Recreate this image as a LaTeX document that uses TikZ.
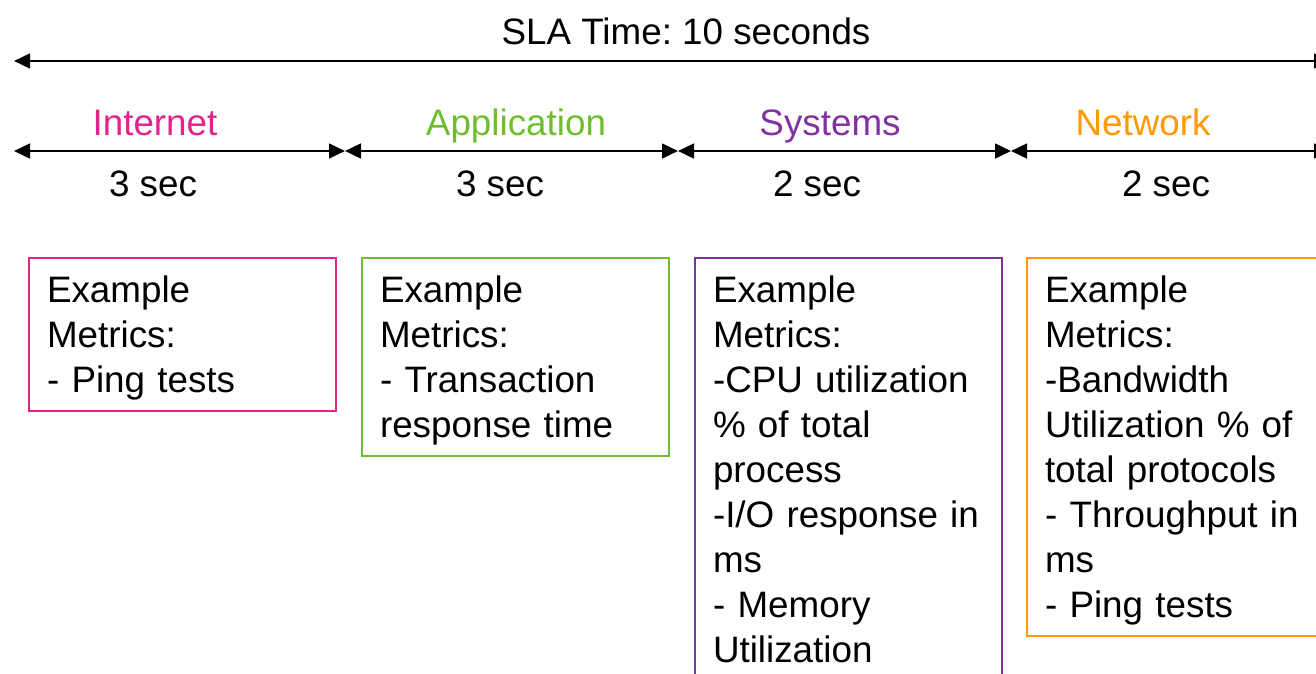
\documentclass[tikz,border=0pt]{standalone}
\usepackage{fontspec}
\setmainfont{Liberation Sans}
\usetikzlibrary{arrows.meta,positioning}
\definecolor{inetpink}{RGB}{224,36,138}
\definecolor{appgreen}{RGB}{112,190,48}
\definecolor{syspurple}{RGB}{128,50,162}
\definecolor{netorange}{RGB}{255,153,0}
\frenchspacing
\begin{document}
\begin{tikzpicture}[x=0.75pt,y=-0.75pt,
  font=\fontsize{27.6}{33.75}\selectfont,
  span/.style={line width=2pt,{Triangle[length=12pt,width=11pt]}-{Triangle[length=12pt,width=11pt]}},
  metricbox/.style={draw=#1,line width=1.5pt,anchor=north west,align=left,
    text width=203pt,inner xsep=13.5pt,inner ysep=7.2pt,
    execute at begin node=\rule{0pt}{26pt},
    execute at end node=\rule[-7pt]{0pt}{0pt}}]
\useasboundingbox (0,0) rectangle (1316,674);
% overall budget
\coordinate (slaL) at (14,61);
\coordinate (slaR) at (1330,61);
\draw[span] (slaL)--(slaR);
\node[anchor=base] (sla) at (686,45) {SLA Time: 10 seconds};
% split of the budget
\coordinate (t0) at (14,151);
\coordinate (t1) at (345,151);
\coordinate (t2) at (678,151);
\coordinate (t3) at (1011,151);
\coordinate (t4) at (1330,151);
\draw[span] (t0)--(t1);
\draw[span] (t1)--(t2);
\draw[span] (t2)--(t3);
\draw[span] (t3)--(t4);
\node[anchor=base,text=inetpink] (internet) at (155,135) {Internet};
\node[anchor=base,text=appgreen] (application) at (516,135) {Application};
\node[anchor=base,text=syspurple] (systems) at (830,135) {Systems};
\node[anchor=base,text=netorange] (network) at (1143,135) {Network};
\node[anchor=base] (internetsec) at (153,196) {3 sec};
\node[anchor=base] (applicationsec) at (500,196) {3 sec};
\node[anchor=base] (systemssec) at (817,196) {2 sec};
\node[anchor=base] (networksec) at (1166,196) {2 sec};
% metrics for each part
\node[metricbox=inetpink] (internetbox) at (28,257)
  {Example\\Metrics:\\- Ping tests};
\node[metricbox=appgreen] (applicationbox) at (361,257)
  {Example\\Metrics:\\- Transaction\\response time};
\node[metricbox=syspurple] (systemsbox) at (694,257)
  {Example\\Metrics:\\-CPU utilization\\\% of total\\process\\-I/O response in\\ms\\- Memory\\Utilization};
\node[metricbox=netorange] (networkbox) at (1026,257)
  {Example\\Metrics:\\-Bandwidth\\Utilization \% of\\total protocols\\- Throughput in\\ms\\- Ping tests};
\end{tikzpicture}
\end{document}
